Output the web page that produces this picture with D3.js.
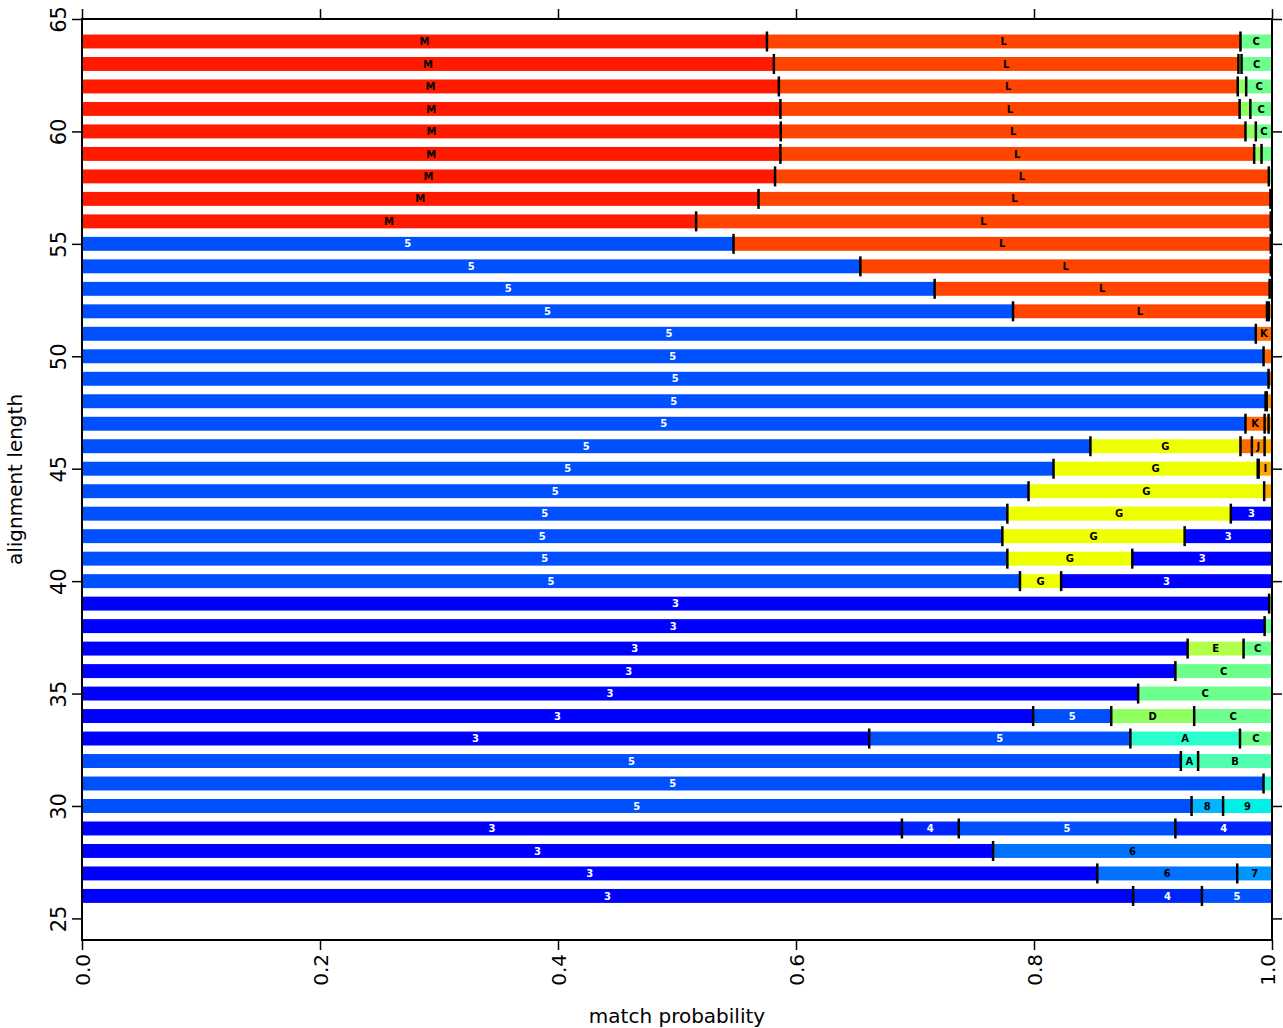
<!DOCTYPE html>
<html>
<head>
<meta charset="utf-8">
<script src="https://cdn.jsdelivr.net/npm/d3@7/dist/d3.min.js"></script>
<style>
  html, body { margin: 0; padding: 0; background: #fff; }
  svg { display: block; font-family: "DejaVu Sans", sans-serif; }
</style>
</head>
<body>
<svg id="chart" width="1283" height="1028"></svg>
<script>
// ---- data ----
const lengths = [64,63,62,61,60,59,58,57,56,55,54,53,52,51,50,49,48,47,46,45,44,43,42,41,40,39,38,37,36,35,34,33,32,31,30,29,28,27,26];

// per row: states and widths (match probability shares)
const rowStates = [
  ["M","L","C"],
  ["M","L","D","C"],
  ["M","L","D","C"],
  ["M","L","D","C"],
  ["M","L","D","C"],
  ["M","L","D","C"],
  ["M","L","C"],
  ["M","L","C"],
  ["M","L","C"],
  ["5","L","K"],
  ["5","L","K"],
  ["5","L","K"],
  ["5","L","K","J"],
  ["5","K"],
  ["5","K"],
  ["5","K"],
  ["5","K","J"],
  ["5","K","J","I"],
  ["5","G","K","J","I"],
  ["5","G","J","I"],
  ["5","G","I"],
  ["5","G","3"],
  ["5","G","3"],
  ["5","G","3"],
  ["5","G","3"],
  ["3","C"],
  ["3","C"],
  ["3","E","C"],
  ["3","C"],
  ["3","C"],
  ["3","5","D","C"],
  ["3","5","A","C"],
  ["5","A","B"],
  ["5","A"],
  ["5","8","9"],
  ["3","4","5","4"],
  ["3","6"],
  ["3","6","7"],
  ["3","4","5"]
];
const rowValues = [
  [0.5756,0.3979,0.0265],
  [0.5814,0.3904,0.0026,0.0256],
  [0.5856,0.3856,0.0071,0.0217],
  [0.5869,0.3859,0.0090,0.0182],
  [0.5872,0.3905,0.0087,0.0136],
  [0.5869,0.3981,0.0062,0.0088],
  [0.5824,0.4149,0.0027],
  [0.5685,0.4302,0.0013],
  [0.5161,0.4829,0.0010],
  [0.5475,0.4515,0.0010],
  [0.6541,0.3449,0.0010],
  [0.7165,0.2815,0.0020],
  [0.7824,0.2134,0.0015,0.0027],
  [0.9864,0.0136],
  [0.9929,0.0071],
  [0.9971,0.0029],
  [0.9946,0.0010,0.0044],
  [0.9777,0.0161,0.0033,0.0029],
  [0.8474,0.1261,0.0096,0.0107,0.0062],
  [0.8164,0.1716,0.0008,0.0112],
  [0.7954,0.1980,0.0066],
  [0.7776,0.1878,0.0346],
  [0.7734,0.1532,0.0734],
  [0.7776,0.1050,0.1174],
  [0.7882,0.0346,0.1772],
  [0.9976,0.0024],
  [0.9938,0.0062],
  [0.9291,0.0470,0.0239],
  [0.9188,0.0812],
  [0.8875,0.1125],
  [0.7993,0.0656,0.0697,0.0654],
  [0.6615,0.2195,0.0921,0.0269],
  [0.9234,0.0145,0.0621],
  [0.9929,0.0071],
  [0.9324,0.0265,0.0411],
  [0.6890,0.0478,0.1820,0.0812],
  [0.7656,0.2344],
  [0.8532,0.1176,0.0292],
  [0.8833,0.0578,0.0589]
];

const categories  = ["3","4","5","6","7","8","9","A","B","C","D","E","G","I","J","K","L","M"];
const stateColors = ["#0000ff","#0024ff","#0050ff","#0072ff","#0096ff","#00b6ff","#00f0e8","#28ffcc","#50ffb0","#6cff8c","#90ff60","#b0ff48","#eeff00","#ffa800","#ff8a00","#ff6a00","#ff4400","#ff1a00"];
const whiteText   = ["3","4","5"];

const xTicks = [0, 0.2, 0.4, 0.6, 0.8, 1.0];
const yTicks = [25, 30, 35, 40, 45, 50, 55, 60, 65];

// ---- layout ----
const L = 82, R = 1272, T = 19, B = 940;
const svg = d3.select("#chart");
const x = d3.scaleLinear().domain([0, 1]).range([L, R]);
const y = d3.scaleLinear().domain([24.04, 65]).range([B, T]);
const color = d3.scaleOrdinal().domain(categories).range(stateColors);
const halfBar = 0.31;

const rows = lengths.map((len, i) => {
  let acc = 0;
  const segs = rowStates[i].map((s, j) => {
    const v = rowValues[i][j];
    const seg = { len, state: s, x0: acc, x1: acc + v, w: v };
    acc += v;
    return seg;
  });
  return { len, segs };
});

const gBars = svg.append("g");
rows.forEach(r => {
  const g = gBars.append("g");
  g.selectAll("rect").data(r.segs).join("rect")
    .attr("x", d => x(d.x0))
    .attr("width", d => Math.max(0, x(d.x1) - x(d.x0)))
    .attr("y", y(r.len + halfBar))
    .attr("height", y(r.len - halfBar) - y(r.len + halfBar))
    .attr("fill", d => color(d.state));
  // separators
  g.selectAll("line").data(r.segs.slice(0, -1)).join("line")
    .attr("x1", d => x(d.x1)).attr("x2", d => x(d.x1))
    .attr("y1", y(r.len) - 10).attr("y2", y(r.len) + 10)
    .attr("stroke", "#000").attr("stroke-width", 2.5);
  // labels
  g.selectAll("text").data(r.segs.filter(d => d.w >= 0.01)).join("text")
    .attr("x", d => (x(d.x0) + x(d.x1)) / 2)
    .attr("y", y(r.len))
    .attr("dy", "0.36em")
    .attr("text-anchor", "middle")
    .attr("font-size", 10)
    .attr("font-weight", "bold")
    .attr("fill", d => whiteText.includes(d.state) ? "#fff" : "#000")
    .text(d => d.state);
});

// ---- frame and axes ----
svg.append("rect").attr("x", L).attr("y", T).attr("width", R - L).attr("height", B - T)
  .attr("fill", "none").attr("stroke", "#000").attr("stroke-width", 2);

const axB = svg.append("g").attr("transform", `translate(0,${B})`)
  .call(d3.axisBottom(x).tickValues(xTicks).tickSize(10).tickFormat(d3.format(".1f")));
const axT = svg.append("g").attr("transform", `translate(0,${T})`)
  .call(d3.axisTop(x).tickValues(xTicks).tickSize(10).tickFormat(""));
const axLft = svg.append("g").attr("transform", `translate(${L},0)`)
  .call(d3.axisLeft(y).tickValues(yTicks).tickSize(10));
const axRt = svg.append("g").attr("transform", `translate(${R},0)`)
  .call(d3.axisRight(y).tickValues(yTicks).tickSize(10).tickFormat(""));

[axB, axT, axLft, axRt].forEach(a => {
  a.select(".domain").remove();
  a.selectAll(".tick line").attr("stroke", "#000").attr("stroke-width", 1.5);
});

axB.selectAll(".tick text")
  .attr("font-size", 20).attr("font-family", "DejaVu Sans, sans-serif").attr("fill", "#000")
  .attr("transform", "rotate(-90)")
  .attr("text-anchor", "end")
  .attr("x", -14).attr("y", 0)
  .attr("dy", d => d === 1 ? "0.1em" : "0.36em");

axLft.selectAll(".tick text")
  .attr("font-size", 21).attr("font-family", "DejaVu Sans, sans-serif").attr("fill", "#000")
  .attr("transform", "rotate(-90)")
  .attr("text-anchor", "middle")
  .attr("x", 0).attr("y", -16).attr("dy", "0");

svg.append("text")
  .attr("x", (L + R) / 2).attr("y", 1023)
  .attr("text-anchor", "middle").attr("font-size", 20)
  .text("match probability");

svg.append("text")
  .attr("transform", `translate(22,${(T + B) / 2}) rotate(-90)`)
  .attr("text-anchor", "middle").attr("font-size", 20)
  .text("alignment length");
</script>
</body>
</html>
